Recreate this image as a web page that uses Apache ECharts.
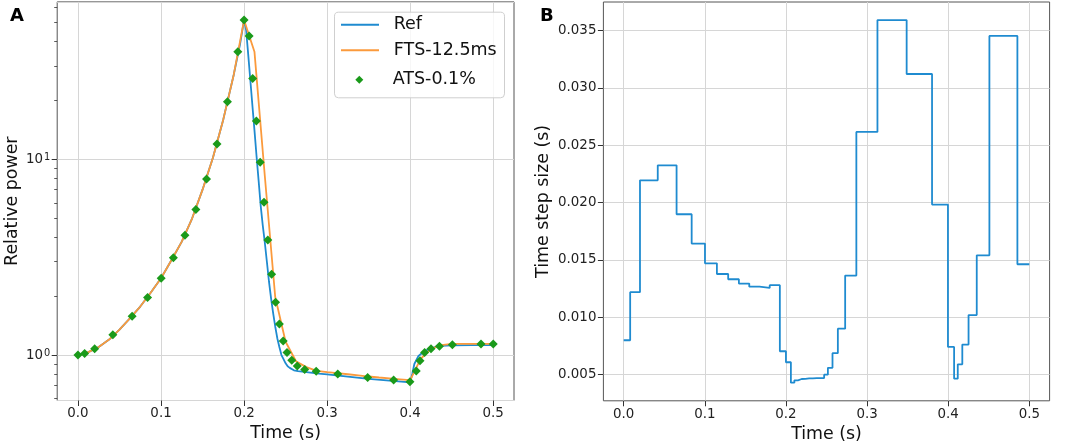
<!DOCTYPE html>
<html>
<head>
<meta charset="utf-8">
<script src="https://cdn.jsdelivr.net/npm/echarts@6.0.0/dist/echarts.min.js"></script>
<style>
  html, body { margin: 0; padding: 0; background: #fff; }
  #main { width: 1065px; height: 445px; }
</style>
</head>
<body>
<div id="main"></div>
<script>
// panel A: reference solution
var refTime = [0, 0.0125, 0.025, 0.0375, 0.05, 0.0625, 0.075, 0.0875, 0.1, 0.1125, 0.125, 0.1375, 0.15, 0.1625, 0.175, 0.1875, 0.195, 0.2,
  0.2025, 0.205, 0.2075, 0.21, 0.2125, 0.215, 0.2175, 0.22, 0.2225, 0.225, 0.2275, 0.23, 0.2325, 0.235, 0.2375, 0.24, 0.2425, 0.245,
  0.2475, 0.25, 0.2525, 0.255, 0.26, 0.265, 0.27, 0.28, 0.29, 0.3, 0.325, 0.35, 0.375, 0.4, 0.4025, 0.405, 0.41, 0.415, 0.42, 0.425,
  0.43, 0.4375, 0.45, 0.475, 0.5];
var refPower = [1.0, 1.035, 1.10, 1.20, 1.35, 1.54, 1.77, 2.08, 2.47, 3.05, 3.8, 5.0, 7.0, 10.2, 16.0, 27.0, 38.5, 51.5,
  45.7, 34.3, 25.5, 18.9, 14.1, 10.4, 7.8, 5.8, 4.6, 3.75, 2.99, 2.37, 1.95, 1.64, 1.40, 1.22, 1.10, 1.0,
  0.954, 0.908, 0.876, 0.86, 0.836, 0.828, 0.823, 0.814, 0.804, 0.797, 0.777, 0.756, 0.741, 0.725, 0.80, 0.90, 0.99, 1.03, 1.06, 1.08,
  1.10, 1.115, 1.122, 1.125, 1.125];

// panel A: fixed time step 12.5 ms
var ftsTime = [0, 0.0125, 0.025, 0.0375, 0.05, 0.0625, 0.075, 0.0875, 0.1, 0.1125, 0.125, 0.1375, 0.15, 0.1625, 0.175, 0.1875, 0.2,
  0.2125, 0.225, 0.2375, 0.25, 0.2625, 0.275, 0.2875, 0.3, 0.3125, 0.325, 0.3375, 0.35, 0.3625, 0.375, 0.3875, 0.4,
  0.4125, 0.425, 0.4375, 0.45, 0.4625, 0.475, 0.4875, 0.5];
var ftsPower = [1.0, 1.035, 1.10, 1.20, 1.35, 1.54, 1.77, 2.08, 2.47, 3.05, 3.8, 5.0, 7.0, 10.2, 16.0, 27.0, 51.5,
  35.5, 8.2, 1.98, 1.17, 0.93, 0.868, 0.83, 0.818, 0.808, 0.798, 0.788, 0.777, 0.768, 0.76, 0.752, 0.744,
  0.955, 1.075, 1.125, 1.14, 1.14, 1.14, 1.14, 1.14];

// adaptive time step 0.1 %: step start times, power, and step size
var atsTime = [0, 0.0080, 0.0201, 0.0420, 0.0652, 0.0838, 0.1002, 0.1149, 0.1288, 0.1420, 0.1548, 0.1674, 0.1800, 0.1925,
  0.2000, 0.2061, 0.2104, 0.2148, 0.2194, 0.2240, 0.2286, 0.2332, 0.2379, 0.2425, 0.2471, 0.2517, 0.2574, 0.2640, 0.2730,
  0.2868, 0.3128, 0.3488, 0.3801, 0.3997, 0.4073, 0.4118, 0.4174, 0.4251, 0.4352, 0.4508, 0.4853, 0.5000];
var atsPower = [1.00, 1.02, 1.077, 1.27, 1.58, 1.97, 2.47, 3.14, 4.09, 5.55, 7.93, 11.97, 19.7, 35.5,
  51.5, 42.7, 25.9, 15.7, 9.66, 6.03, 3.87, 2.59, 1.86, 1.44, 1.18, 1.03, 0.94, 0.88, 0.845,
  0.826, 0.80, 0.769, 0.745, 0.73, 0.83, 0.936, 1.03, 1.077, 1.11, 1.13, 1.14, 1.14];
var atsStep = [0.0080, 0.01219, 0.02195, 0.02326, 0.01899, 0.01643, 0.01471, 0.01378, 0.01332, 0.01294, 0.01267, 0.01256, 0.01280, 0.00704,
  0.00608, 0.00430, 0.00451, 0.00462, 0.00464, 0.00468, 0.00468, 0.00469, 0.00469, 0.00470, 0.00500, 0.00560, 0.00687, 0.00901, 0.01364,
  0.02617, 0.03592, 0.03122, 0.01983, 0.00742, 0.00465, 0.00590, 0.00762, 0.01020, 0.01541, 0.03454, 0.01463, 0.01463];

var timeTicks = [0, 0.1, 0.2, 0.3, 0.4, 0.5];
var stepTicks = [0.005, 0.010, 0.015, 0.020, 0.025, 0.030, 0.035];
var powerMajorTicks = [1, 10];
var powerMinorTicks = [0.6, 0.7, 0.8, 0.9, 2, 3, 4, 5, 6, 7, 8, 9, 20, 30, 40, 50, 60];

var font = 'DejaVu Sans';
var cBlue = '#1f8bd0', cOrange = '#fb9a3c', cGreen = '#1a9a1a';
var yMinA = 0.586, yMaxA = 63.76;

function pairs(xs, ys) {
  return xs.map(function (x, i) { return [x, ys[i]]; });
}
function log10(v) { return Math.log10(v); }

var tickLabel = { fontFamily: font, fontSize: 13.4, color: '#222' };
var gridLine = { show: true, lineStyle: { color: '#d6d6d6', width: 1 } };
var nameStyle = { fontFamily: font, fontSize: 17.4, color: '#111' };

function timeAxis(gridIndex) {
  return {
    type: 'value', gridIndex: gridIndex, min: -0.025, max: 0.525,
    axisLine: { show: false, onZero: false },
    axisTick: { show: true, length: 5.5, customValues: timeTicks, lineStyle: { color: '#333' } },
    axisLabel: Object.assign({ margin: 7, customValues: timeTicks, formatter: function (v) { return v.toFixed(1); } }, tickLabel),
    splitLine: gridLine,
    name: 'Time (s)', nameLocation: 'middle', nameGap: 24, nameTextStyle: nameStyle
  };
}

var chart = echarts.init(document.getElementById('main'), null, { renderer: 'canvas' });

var option = {
  animation: false,
  backgroundColor: '#fff',
  title: [
    { text: 'A', left: 5, top: 2, textStyle: { fontFamily: font, fontSize: 18, fontWeight: 'bold', color: '#000' } },
    { text: 'B', left: 535, top: 2, textStyle: { fontFamily: font, fontSize: 18, fontWeight: 'bold', color: '#000' } }
  ],
  grid: [
    { left: 57.2, top: 1.9, width: 456.8, height: 398.6, outerBoundsMode: 'none', containLabel: false,
      show: true, borderColor: '#555', borderWidth: 1, backgroundColor: 'transparent' },
    { left: 603.4, top: 2.0, width: 446.2, height: 398.8, outerBoundsMode: 'none', containLabel: false,
      show: true, borderColor: '#555', borderWidth: 1, backgroundColor: 'transparent' }
  ],
  xAxis: [timeAxis(0), timeAxis(1)],
  yAxis: [
    {
      type: 'log', logBase: 10, gridIndex: 0, min: yMinA, max: yMaxA, position: 'left',
      axisLine: { show: false }, axisTick: { show: false },
      axisLabel: {
        margin: 7,
        formatter: function (v) {
          var e = Math.log10(v);
          if (Math.abs(e - Math.round(e)) > 1e-6) return '';
          return '{b|10}{s|' + Math.round(e) + '}';
        },
        rich: {
          b: { fontFamily: font, fontSize: 13.4, color: '#222' },
          s: { fontFamily: font, fontSize: 9.8, color: '#222', verticalAlign: 'top', padding: [0, 0, 0, 1] }
        }
      },
      splitLine: gridLine,
      name: 'Relative power', nameLocation: 'middle', nameGap: 36.5, nameTextStyle: nameStyle
    },
    {
      // major ticks of the log axis, drawn in log10 space
      type: 'value', gridIndex: 0, min: log10(yMinA), max: log10(yMaxA), position: 'left',
      axisLine: { show: false, onZero: false }, splitLine: { show: false }, axisLabel: { show: false },
      axisTick: { show: true, length: 5.5, customValues: powerMajorTicks.map(log10), lineStyle: { color: '#333' } }
    },
    {
      // minor ticks of the log axis
      type: 'value', gridIndex: 0, min: log10(yMinA), max: log10(yMaxA), position: 'left',
      axisLine: { show: false, onZero: false }, splitLine: { show: false }, axisLabel: { show: false },
      axisTick: { show: true, length: 3, customValues: powerMinorTicks.map(log10), lineStyle: { color: '#333', width: 0.8 } }
    },
    {
      type: 'value', gridIndex: 1, min: 0.00272, max: 0.0375, position: 'left',
      axisLine: { show: false, onZero: false },
      axisTick: { show: true, length: 5.5, customValues: stepTicks, lineStyle: { color: '#333' } },
      axisLabel: Object.assign({ margin: 7, customValues: stepTicks, formatter: function (v) { return v.toFixed(3); } }, tickLabel),
      splitLine: gridLine,
      name: 'Time step size (s)', nameLocation: 'middle', nameGap: 51, nameTextStyle: nameStyle
    }
  ],
  legend: [
    {
      data: ['Ref', 'FTS-12.5ms'], orient: 'vertical', left: 340, top: 15.7, padding: 0,
      itemWidth: 38, itemHeight: 14, itemGap: 7.5, selectedMode: false, z: 20,
      itemStyle: { opacity: 0 },
      formatter: '{t|{name}}',
      textStyle: { rich: { t: { fontFamily: font, fontSize: 17.5, color: '#111', lineHeight: 20, padding: [0, 0, 0, 9.7] } } }
    },
    {
      data: ['ATS-0.1%'], orient: 'vertical', left: 355.3, top: 70.7, padding: 0,
      itemWidth: 8, itemHeight: 8, selectedMode: false, z: 20,
      formatter: '{t|{name}}',
      textStyle: { rich: { t: { fontFamily: font, fontSize: 17.5, color: '#111', lineHeight: 20, padding: [0, 0, 0, 24.4] } } }
    }
  ],
  graphic: [
    {
      type: 'rect', left: 334, top: 11.7, z: 10,
      shape: { width: 170, height: 85.6, r: 4 },
      style: { fill: 'rgba(255,255,255,0.8)', stroke: '#cfcfcf', lineWidth: 1 }
    }
  ],
  series: [
    {
      name: 'Ref', type: 'line', xAxisIndex: 0, yAxisIndex: 0, data: pairs(refTime, refPower),
      symbol: 'none', showSymbol: false, lineStyle: { color: cBlue, width: 1.8 }, itemStyle: { color: cBlue }, z: 2
    },
    {
      name: 'FTS-12.5ms', type: 'line', xAxisIndex: 0, yAxisIndex: 0, data: pairs(ftsTime, ftsPower),
      symbol: 'none', showSymbol: false, lineStyle: { color: cOrange, width: 1.8 }, itemStyle: { color: cOrange }, z: 3
    },
    {
      name: 'ATS-0.1%', type: 'scatter', xAxisIndex: 0, yAxisIndex: 0, data: pairs(atsTime, atsPower),
      symbol: 'diamond', symbolSize: 9, itemStyle: { color: cGreen, opacity: 1 }, z: 4
    },
    {
      name: 'step', type: 'line', xAxisIndex: 1, yAxisIndex: 3, data: pairs(atsTime, atsStep),
      step: 'end', symbol: 'none', showSymbol: false, lineStyle: { color: cBlue, width: 1.8 }, itemStyle: { color: cBlue }
    }
  ]
};

chart.setOption(option);
</script>
</body>
</html>
